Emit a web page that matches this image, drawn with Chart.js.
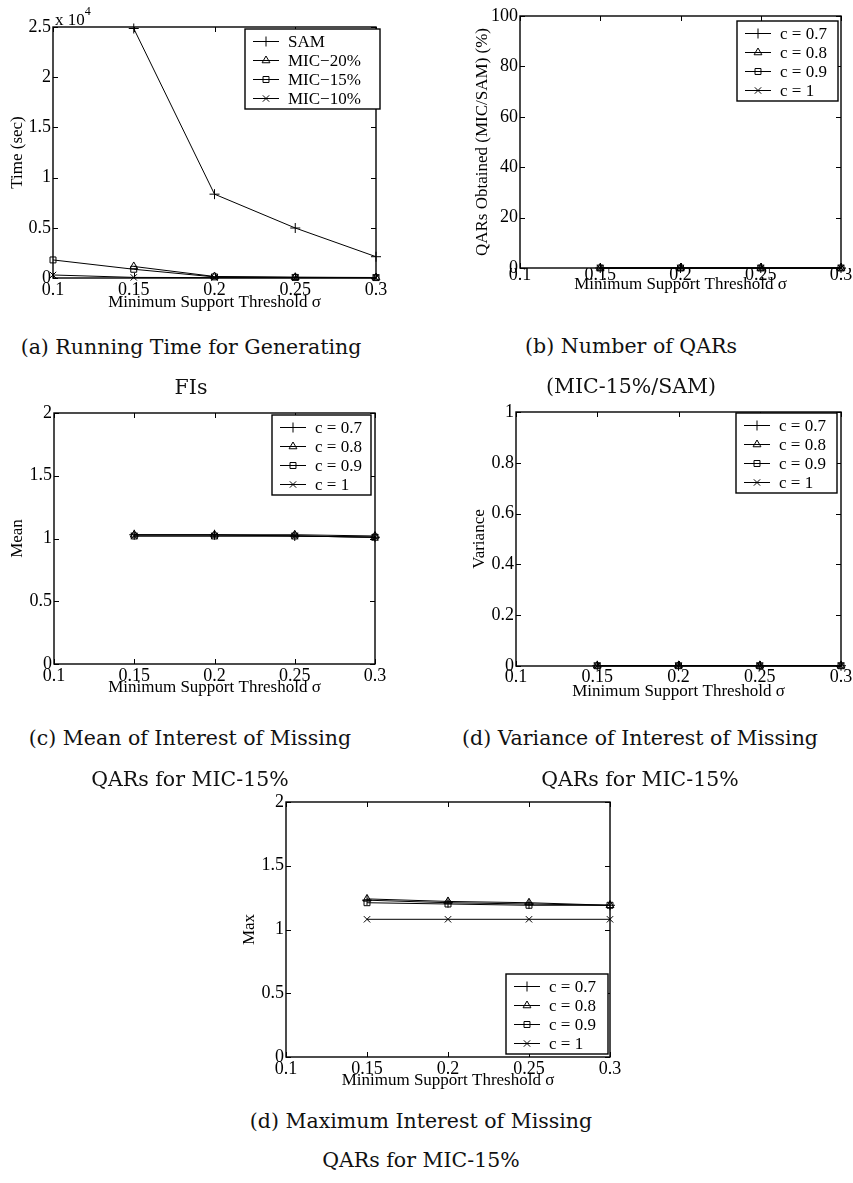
<!DOCTYPE html>
<html>
<head>
<meta charset="utf-8">
<script src="https://cdn.jsdelivr.net/npm/chart.js@4/dist/chart.umd.min.js"></script>
<style>
body { margin: 0; background: #fff; }
#page { position: relative; width: 853px; height: 1183px; overflow: hidden; background: #fff; }
canvas { position: absolute; }
.cap { position: absolute; font-family: "DejaVu Serif", serif; font-size: 20.5px; color: #111;
       white-space: nowrap; transform: translate(-50%, -50%); line-height: 1; z-index: 2; }
.expo { position: absolute; font-family: "Liberation Serif", serif; font-size: 17px; color: #000; line-height: 1; z-index: 2; }
.expo sup { font-size: 12px; position: relative; top: -3px; }
</style>
</head>
<body>
<div id="page">
  <canvas id="chartA"></canvas>
  <canvas id="chartB"></canvas>
  <canvas id="chartC"></canvas>
  <canvas id="chartD"></canvas>
  <canvas id="chartE"></canvas>

  <div class="expo" style="left:55px; top:8px;">x 10<sup>4</sup></div>

  <div class="cap" style="left:191px; top:347px;">(a) Running Time for Generating</div>
  <div class="cap" style="left:191px; top:387px;">FIs</div>
  <div class="cap" style="left:631px; top:346px;">(b) Number of QARs</div>
  <div class="cap" style="left:631px; top:386px;">(MIC-15%/SAM)</div>
  <div class="cap" style="left:190px; top:738px;">(c) Mean of Interest of Missing</div>
  <div class="cap" style="left:190px; top:779px;">QARs for MIC-15%</div>
  <div class="cap" style="left:640px; top:738px;">(d) Variance of Interest of Missing</div>
  <div class="cap" style="left:640px; top:779px;">QARs for MIC-15%</div>
  <div class="cap" style="left:421px; top:1121px;">(d) Maximum Interest of Missing</div>
  <div class="cap" style="left:421px; top:1160px;">QARs for MIC-15%</div>
</div>
<script>
const sigma = [0.1, 0.15, 0.2, 0.25, 0.3];
const sigmaTickLabels = ['0.1', '0.15', '0.2', '0.25', '0.3'];
const confLabels = ['c = 0.7', 'c = 0.8', 'c = 0.9', 'c = 1'];
const markerStyles = ['cross', 'triangle', 'rect', 'crossRot'];
const markerSizes = [5, 4.5, 4.2, 4.5];

// (a) running time
const timeLabels = ['SAM', 'MIC\u221220%', 'MIC\u221215%', 'MIC\u221210%'];
const timeSAM = [null, 24850, 8350, 4980, 2120];
const timeMIC20 = [null, 1150, 150, 80, 50];
const timeMIC15 = [1800, 870, 110, 60, 40];
const timeMIC10 = [300, 60, 40, 30, 20];
const timeTicks = [0, 5000, 10000, 15000, 20000, 25000];
const timeTickLabels = ['0', '0.5', '1', '1.5', '2', '2.5'];

// (b) number of QARs obtained (%)
const qarC07 = [null, 0, 0, 0, 0];
const qarC08 = [null, 0, 0, 0, 0];
const qarC09 = [null, 0, 0, 0, 0];
const qarC10 = [null, 0, 0, 0, 0];
const qarTicks = [0, 20, 40, 60, 80, 100];
const qarTickLabels = ['0', '20', '40', '60', '80', '100'];

// (c) mean interest
const meanC07 = [null, 1.03, 1.03, 1.02, 1.01];
const meanC08 = [null, 1.03, 1.03, 1.03, 1.02];
const meanC09 = [null, 1.02, 1.02, 1.02, 1.01];
const meanC10 = [null, 1.02, 1.02, 1.02, 1.01];
const meanTicks = [0, 0.5, 1, 1.5, 2];
const meanTickLabels = ['0', '0.5', '1', '1.5', '2'];

// (d) variance of interest
const varC07 = [null, 0.001, 0.001, 0.001, 0.001];
const varC08 = [null, 0.001, 0.001, 0.001, 0.001];
const varC09 = [null, 0.001, 0.001, 0.001, 0.001];
const varC10 = [null, 0.001, 0.001, 0.001, 0.001];
const varTicks = [0, 0.2, 0.4, 0.6, 0.8, 1];
const varTickLabels = ['0', '0.2', '0.4', '0.6', '0.8', '1'];

// (e) max interest
const maxC07 = [null, 1.23, 1.21, 1.20, 1.19];
const maxC08 = [null, 1.24, 1.22, 1.21, 1.19];
const maxC09 = [null, 1.21, 1.20, 1.19, 1.19];
const maxC10 = [null, 1.08, 1.08, 1.08, 1.08];
const maxTicks = [0, 0.5, 1, 1.5, 2];
const maxTickLabels = ['0', '0.5', '1', '1.5', '2'];

const FONT_FAMILY = '"Liberation Serif", "Times New Roman", serif';
const TICK_SIZE = 18;
const TITLE_SIZE = 17;
const LEGEND_SIZE = 17;

function drawMarker(ctx, style, x, y, r) {
  if (Chart.helpers && Chart.helpers.drawPoint) {
    Chart.helpers.drawPoint(ctx, { pointStyle: style, radius: r, borderWidth: 1, rotation: 0 }, x, y);
    return;
  }
  ctx.beginPath();
  if (style === 'cross') {
    ctx.moveTo(x - r, y); ctx.lineTo(x + r, y);
    ctx.moveTo(x, y - r); ctx.lineTo(x, y + r);
  } else if (style === 'crossRot') {
    const d = r * Math.SQRT1_2;
    ctx.moveTo(x - d, y - d); ctx.lineTo(x + d, y + d);
    ctx.moveTo(x - d, y + d); ctx.lineTo(x + d, y - d);
  } else if (style === 'triangle') {
    for (let k = 0; k < 3; k++) {
      const a = k * 2 * Math.PI / 3;
      const px = x + Math.sin(a) * r, py = y - Math.cos(a) * r;
      if (k === 0) ctx.moveTo(px, py); else ctx.lineTo(px, py);
    }
    ctx.closePath();
  } else {
    const s = r * Math.SQRT1_2;
    ctx.rect(x - s, y - s, 2 * s, 2 * s);
  }
  ctx.stroke();
}

// axes box with inward ticks on all four sides
const boxAxes = {
  id: 'boxAxes',
  afterDatasetsDraw(chart) {
    const ctx = chart.ctx, ca = chart.chartArea;
    const xs = chart.scales.x, ys = chart.scales.y;
    ctx.save();
    ctx.strokeStyle = '#000';
    ctx.lineWidth = 1;
    ctx.beginPath();
    xs.ticks.forEach(t => {
      const px = Math.round(xs.getPixelForValue(t.value)) + 0.5;
      ctx.moveTo(px, ca.bottom); ctx.lineTo(px, ca.bottom - 5);
      ctx.moveTo(px, ca.top); ctx.lineTo(px, ca.top + 5);
    });
    ys.ticks.forEach(t => {
      const py = Math.round(ys.getPixelForValue(t.value)) + 0.5;
      ctx.moveTo(ca.left, py); ctx.lineTo(ca.left + 5, py);
      ctx.moveTo(ca.right, py); ctx.lineTo(ca.right - 5, py);
    });
    ctx.stroke();
    ctx.lineWidth = 1.4;
    ctx.strokeRect(ca.left, ca.top, ca.right - ca.left, ca.bottom - ca.top);
    ctx.restore();
  }
};

function legendPlugin(leg) {
  return {
    id: 'boxLegend',
    afterDraw(chart) {
      const ctx = chart.ctx, ca = chart.chartArea;
      const sets = chart.data.datasets;
      const w = leg.width, h = 80;
      const left = ca.right - leg.right - w;
      const top = leg.corner === 'ne' ? ca.top + leg.offset : ca.bottom - leg.offset - h;
      ctx.save();
      ctx.fillStyle = '#fff';
      ctx.fillRect(left, top, w, h);
      ctx.strokeStyle = '#000';
      ctx.lineWidth = 1.4;
      ctx.strokeRect(left, top, w, h);
      ctx.font = LEGEND_SIZE + 'px ' + FONT_FAMILY;
      ctx.textBaseline = 'middle';
      ctx.textAlign = 'left';
      sets.forEach((ds, i) => {
        const y = Math.round(top + 12 + i * 19) + 0.5;
        ctx.lineWidth = 1;
        ctx.strokeStyle = '#000';
        ctx.beginPath();
        ctx.moveTo(left + 8, y); ctx.lineTo(left + 34, y);
        ctx.stroke();
        ctx.fillStyle = 'rgba(0,0,0,0)';
        drawMarker(ctx, ds.pointStyle, left + 21, y, ds.pointRadius);
        ctx.fillStyle = '#000';
        ctx.fillText(ds.label, left + 43, y + 1);
      });
      ctx.restore();
    }
  };
}

function buildChart(id, spec) {
  const canvas = document.getElementById(id);
  const c = spec.canvas, a = spec.area;
  canvas.width = c.width;
  canvas.height = c.height;
  canvas.style.left = c.left + 'px';
  canvas.style.top = c.top + 'px';
  canvas.style.width = c.width + 'px';
  canvas.style.height = c.height + 'px';
  const yAxisW = a.left - c.left;
  const xAxisH = c.top + c.height - a.bottom;
  const tickFont = { family: FONT_FAMILY, size: TICK_SIZE };
  const titleFont = { family: FONT_FAMILY, size: TITLE_SIZE };
  const titleLH = TITLE_SIZE * 1.2;
  const tickLH = TICK_SIZE * 1.2;

  const datasets = spec.series.map((vals, i) => ({
    label: spec.names[i],
    data: sigma.map((x, k) => ({ x: x, y: vals[k] })),
    borderColor: '#000',
    borderWidth: 1,
    pointStyle: markerStyles[i],
    pointRadius: markerSizes[i],
    pointBorderColor: '#000',
    pointBackgroundColor: 'rgba(0,0,0,0)',
    pointBorderWidth: 1,
    tension: 0,
    clip: false
  }));

  return new Chart(canvas, {
    type: 'line',
    data: { datasets: datasets },
    options: {
      responsive: false,
      animation: false,
      devicePixelRatio: 1,
      layout: { padding: { top: a.top - c.top, right: c.left + c.width - a.right, left: 0, bottom: 0 } },
      scales: {
        x: {
          type: 'linear', min: 0.1, max: 0.3,
          grid: { display: false, drawTicks: false },
          border: { display: false },
          afterBuildTicks: s => { s.ticks = sigma.map(v => ({ value: v })); },
          afterFit: s => { s.height = xAxisH; },
          ticks: { color: '#000', font: tickFont, padding: spec.xTickY - tickLH / 2, maxRotation: 0, autoSkip: false,
                   callback: (v, i) => sigmaTickLabels[i] },
          title: { display: true, text: 'Minimum Support Threshold \u03c3', color: '#000', font: titleFont,
                   padding: { top: 0, bottom: (c.top + c.height - spec.xTitleY) - titleLH / 2 } }
        },
        y: {
          type: 'linear', min: spec.yTicks[0], max: spec.yTicks[spec.yTicks.length - 1],
          grid: { display: false, drawTicks: false },
          border: { display: false },
          afterBuildTicks: s => { s.ticks = spec.yTicks.map(v => ({ value: v })); },
          afterFit: s => { s.width = yAxisW; },
          ticks: { color: '#000', font: tickFont, padding: 2, autoSkip: false,
                   callback: (v, i) => spec.yTickLabels[i] },
          title: { display: true, text: spec.yTitle, color: '#000', font: titleFont,
                   padding: { top: (spec.yTitleX - c.left) - titleLH / 2, bottom: 0 } }
        }
      },
      plugins: { legend: { display: false }, tooltip: { enabled: false } }
    },
    plugins: [boxAxes, legendPlugin(spec.legend)]
  });
}

buildChart('chartA', {
  canvas: { left: 0, top: 0, width: 426, height: 330 },
  area: { left: 53, top: 27, right: 376, bottom: 278 },
  series: [timeSAM, timeMIC20, timeMIC15, timeMIC10], names: timeLabels,
  yTicks: timeTicks, yTickLabels: timeTickLabels, yTitle: 'Time (sec)',
  xTickY: 12, xTitleY: 303, yTitleX: 18,
  legend: { corner: 'ne', offset: 2, right: -4, width: 135 }
});

buildChart('chartB', {
  canvas: { left: 426, top: 0, width: 427, height: 330 },
  area: { left: 520, top: 16, right: 841, bottom: 268 },
  series: [qarC07, qarC08, qarC09, qarC10], names: confLabels,
  yTicks: qarTicks, yTickLabels: qarTickLabels, yTitle: 'QARs Obtained (MIC/SAM) (%)',
  xTickY: 7, xTitleY: 285, yTitleX: 483,
  legend: { corner: 'ne', offset: 5, right: 3, width: 101 }
});

buildChart('chartC', {
  canvas: { left: 0, top: 395, width: 426, height: 325 },
  area: { left: 54, top: 413, right: 375, bottom: 664 },
  series: [meanC07, meanC08, meanC09, meanC10], names: confLabels,
  yTicks: meanTicks, yTickLabels: meanTickLabels, yTitle: 'Mean',
  xTickY: 12, xTitleY: 688, yTitleX: 18,
  legend: { corner: 'ne', offset: 2, right: 4, width: 99 }
});

buildChart('chartD', {
  canvas: { left: 426, top: 395, width: 427, height: 325 },
  area: { left: 516, top: 412, right: 841, bottom: 666 },
  series: [varC07, varC08, varC09, varC10], names: confLabels,
  yTicks: varTicks, yTickLabels: varTickLabels, yTitle: 'Variance',
  xTickY: 11, xTitleY: 692, yTitleX: 480,
  legend: { corner: 'ne', offset: 1, right: 4, width: 101 }
});

buildChart('chartE', {
  canvas: { left: 200, top: 785, width: 453, height: 320 },
  area: { left: 286, top: 802, right: 610, bottom: 1057 },
  series: [maxC07, maxC08, maxC09, maxC10], names: confLabels,
  yTicks: maxTicks, yTickLabels: maxTickLabels, yTitle: 'Max',
  xTickY: 12, xTitleY: 1081, yTitleX: 250,
  legend: { corner: 'se', offset: 3, right: 2, width: 102 }
});
</script>
</body>
</html>
